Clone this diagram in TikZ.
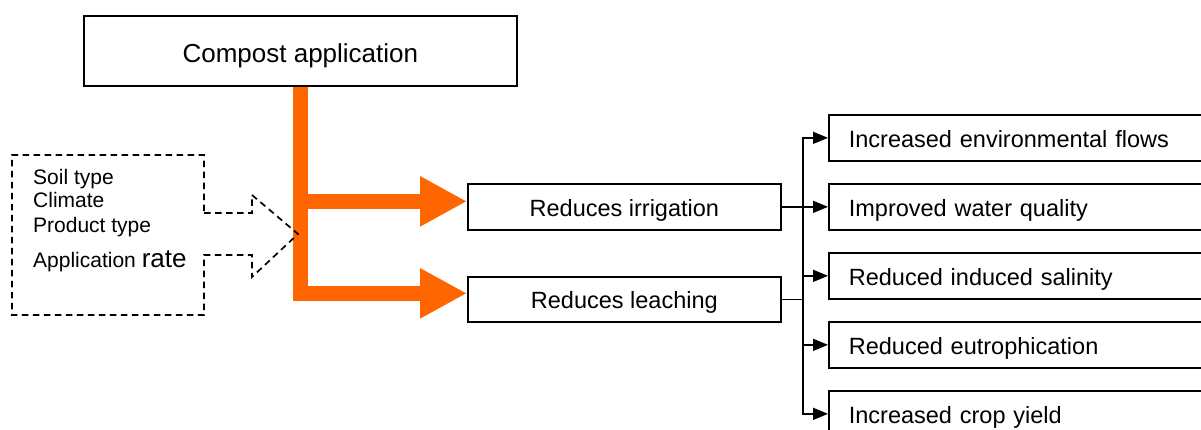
\documentclass[tikz,border=0pt]{standalone}
\usepackage{fontspec}
\setmainfont{Liberation Sans}
\usetikzlibrary{arrows.meta}
\definecolor{compostorange}{HTML}{FF6600}
\begin{document}
\begin{tikzpicture}[x=1pt,y=-1pt,
  box/.style={draw, line width=1.7pt, inner xsep=0pt, inner ysep=0pt, anchor=north west,
    text height=33pt, text depth=13pt, font=\fontsize{23.5}{27}\selectfont},
  outbox/.style={box, text width=350pt, inner xsep=20pt, align=left},
  conn/.style={line width=1.5pt, -{Triangle[length=15pt,width=12pt]}},
  plainline/.style={line width=1.5pt},
  obar/.style={draw=compostorange, line width=15pt, -{Triangle[length=47pt,width=47pt]}},
  dashedline/.style={line width=1.7pt, dash pattern=on 6.5pt off 4.5pt},
  lefttext/.style={anchor=base west, inner sep=0pt, font=\fontsize{21}{25}\selectfont}]
\useasboundingbox (0,0) rectangle (1201,430);
\clip (0,0) rectangle (1201,430);

% main boxes
\node[box, minimum width=433pt, text height=47pt, text depth=23pt,
      font=\fontsize{26}{30}\selectfont] (comp) at (83,15) {Compost application};
\node[box, minimum width=313pt] (irr) at (467,183) {Reduces irrigation};
\node[box, minimum width=313pt, text height=32pt, text depth=13pt] (leach) at (467,276) {Reduces leaching};

% outcome boxes
\node[outbox] (f1) at (828,114) {Increased environmental flows};
\node[outbox] (f2) at (828,183) {Improved water quality};
\node[outbox] (f3) at (828,252) {Reduced induced salinity};
\node[outbox] (f4) at (828,321) {Reduced eutrophication};
\node[outbox] (f5) at (828,390) {Increased crop yield};

% orange flow
\coordinate (tip1) at ([yshift=5.5pt]irr.west);
\coordinate (tip2) at ([yshift=6pt]leach.west);
\draw[obar] (comp.south) |- (tip2);
\draw[obar] (comp.south |- tip1) -- (tip1);

% connectors on the right
\coordinate (bt) at (803,137);
\coordinate (bb) at (803,413);
\draw[conn] (bb) |- (f1.west);
\draw[conn] (bt) |- (f5.west);
\draw[conn] (irr.east) -- (f2.west);
\draw[conn] (f3.west -| bt) -- (f3.west);
\draw[conn] (f4.west -| bt) -- (f4.west);
\draw[plainline] (leach.east) -- (leach.east -| bt);

% dashed factors box with arrow
\draw[dashedline] (204,213) -- (252,213) -- (252,195) -- (298,234) -- (252,277)
  -- (252,255) -- (204,255) -- (204,315) -- (12,315) -- (12,155) -- (204,155) -- cycle;
\node[lefttext] (l1) at (33,185) {Soil type};
\node[lefttext] (l2) at (33,208) {Climate};
\node[lefttext] (l3) at (33,233) {Product type};
\node[lefttext] (l4) at (33,268) {Application {\fontsize{26}{30}\selectfont rate}};
\end{tikzpicture}
\end{document}
